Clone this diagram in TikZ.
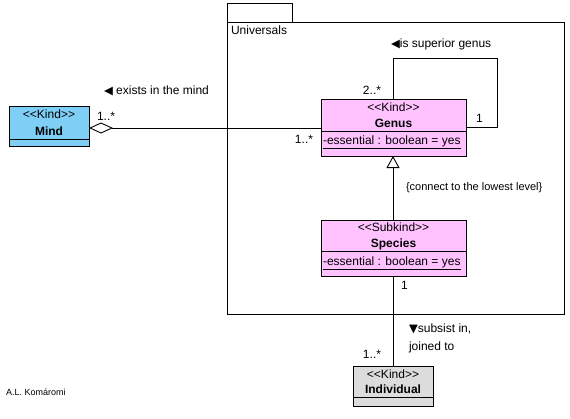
\documentclass[tikz,border=0pt]{standalone}
\usepackage{fontspec}
\setmainfont{Liberation Sans}
\newfontfamily\symfont{DejaVu Sans}
\usetikzlibrary{arrows.meta}
\definecolor{kindblue}{RGB}{126,206,245}
\definecolor{kindpink}{RGB}{255,194,255}
\definecolor{kindgray}{RGB}{220,220,220}
\newcommand\stereo[1]{<\kern0pt<#1>\kern0pt>}
\newcommand\tri[1]{{\symfont\fontsize{11.5}{12}\selectfont #1}}
\begin{document}
\begin{tikzpicture}[x=1pt,y=-1pt,
  every node/.style={inner sep=0pt,outer sep=0pt},
  base/.style={font=\fontsize{12}{14}\selectfont},
  lbl/.style={base},
  small/.style={font=\fontsize{11}{13}\selectfont},
  bold/.style={base,font=\fontsize{12}{14}\selectfont\bfseries},
  boxline/.style={draw=black,line width=0.9pt},
  conn/.style={draw=black,line width=0.9pt},
  classbox/.style={boxline,rectangle,anchor=north west}
]
\useasboundingbox (0,0) rectangle (570,418);
% package
\node[classbox,minimum width=65pt,minimum height=19pt] (tab) at (227,3) {};
\node[classbox,minimum width=337pt,minimum height=292pt] (pkg) at (227,22) {};
\node[lbl,anchor=west] (univ) at (231,30) {Universals};

% Mind
\node[classbox,fill=kindblue,minimum width=80pt,minimum height=40pt] (mind) at (9,106) {};
\draw[boxline] (9,139) -- (89,139);
\node[lbl] (mindst) at (49,114) {\stereo{Kind}};
\node[bold] (mindnm) at (49,131) {Mind};

% Genus
\node[classbox,fill=kindpink,minimum width=145pt,minimum height=57pt] (genus) at (321,99) {};
\draw[boxline] (321,131) -- (466,131);
\node[lbl] (genusst) at (393.5,107) {\stereo{Kind}};
\node[bold] (genusnm) at (393.5,123) {Genus};
\node[lbl,anchor=west] (genusat) at (323,142) {\underline{-essential : boolean = yes}};

% Species
\node[classbox,fill=kindpink,minimum width=145pt,minimum height=56pt] (species) at (321,220) {};
\draw[boxline] (321,251) -- (466,251);
\node[lbl] (speciesst) at (393.5,227) {\stereo{Subkind}};
\node[bold] (speciesnm) at (393.5,244) {Species};
\node[lbl,anchor=west] (speciesat) at (323,263) {\underline{-essential : boolean = yes}};

% Individual
\node[classbox,fill=kindgray,minimum width=80pt,minimum height=40pt] (indiv) at (353,366) {};
\draw[boxline] (353,397) -- (433,397);
\node[lbl] (indivst) at (393,374) {\stereo{Kind}};
\node[bold] (indivnm) at (393,389) {Individual};

% aggregation Mind -- Genus
\draw[conn,{Diamond[open,length=24pt,width=11pt,line width=0.9pt]}-] (mind.east |- 0,128) -- (genus.west |- 0,128);

% self loop
\coordinate (l1) at (393,58);
\coordinate (l2) at (497,58);
\coordinate (l3) at (497,127);
\draw[conn] (genus.north -| 393,0) -- (l1) -- (l2) -- (l3) -- (genus.east |- l3);

% generalization
\draw[conn,-{Triangle[open,length=12pt,width=13pt,line width=0.9pt]}] (species.north -| 393,0) -- (genus.south -| 393,0);

% association Species -- Individual
\draw[conn] (species.south -| 393,0) -- (indiv.north -| 393,0);

% labels
\node[lbl,anchor=west] (m1) at (97,116) {1..*};
\node[lbl,anchor=east] (m2) at (313,139) {1..*};
\node[lbl,anchor=west] (exists) at (104,91) {\tri{◀} exists in the mind};
\node[lbl,anchor=east] (m3) at (381,90) {2..*};
\node[lbl,anchor=west] (m4) at (476,118) {1};
\node[lbl,anchor=west] (sup) at (391,44) {\tri{◀}is superior genus};
\node[small,anchor=west] (constr) at (406,188) {\{connect to the lowest level\}};
\node[lbl,anchor=west] (m5) at (401,285) {1};
\node[lbl,anchor=west] (subs) at (409,329) {\tri{▼}subsist in,};
\node[lbl,anchor=west] (joined) at (409,347) {joined to};
\node[lbl,anchor=east] (m6) at (381,354) {1..*};
\node[anchor=west,font=\fontsize{9}{11}\selectfont] (author) at (6,392) {A.L. Komáromi};
\end{tikzpicture}
\end{document}
